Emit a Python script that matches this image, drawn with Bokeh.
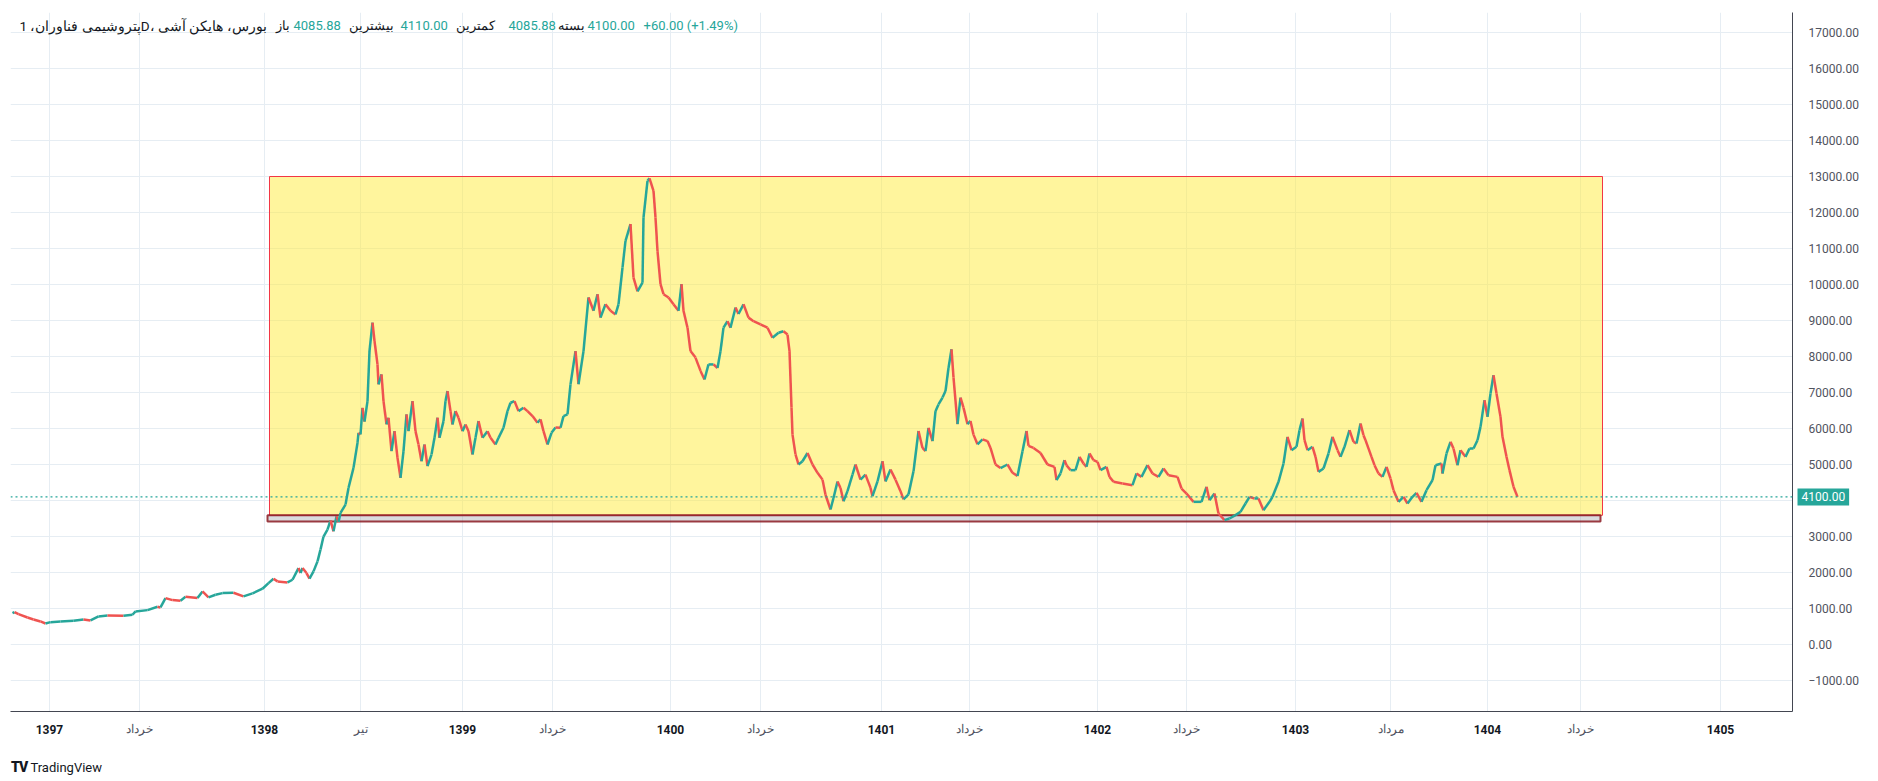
from bokeh.plotting import figure
from bokeh.models import Range1d, FixedTicker, Label, LinearAxis, Span, Div
from bokeh.layouts import column
from bokeh.embed import file_html
from bokeh.resources import INLINE

# ---------------- data ----------------
# bar index (trading-day position on the time scale) and Heikin Ashi close
bar_x = [12, 14, 18, 27, 33, 40, 45, 50, 60, 73, 83, 90, 98, 107, 123, 132, 135, 147, 157, 160,
         165, 172, 180, 185, 197, 202, 208, 215, 222, 233, 243, 252, 262, 268, 273, 277, 287, 292,
         298, 300, 302, 306, 309, 313, 317, 320, 323, 327, 330, 333, 336, 338, 340, 345, 348, 353,
         357, 358, 360, 362, 364, 367, 369, 372, 374, 377, 378, 381, 383, 386, 388, 391, 394, 397,
         400, 403, 406, 408, 412, 415, 418, 421, 424, 427, 431, 434, 437, 439, 443, 445, 447, 450,
         452, 455, 458, 462, 465, 468, 472, 475, 478, 482, 487, 490, 495, 498, 503, 507, 510, 514,
         518, 523, 527, 532, 537, 540, 543, 547, 551, 555, 560, 563, 567, 570, 575, 578, 583, 588,
         593, 597, 600, 605, 610, 615, 618, 622, 625, 630, 633, 637, 642, 643, 647, 649, 653, 655,
         657, 660, 663, 668, 673, 678, 681, 683, 687, 690, 695, 700, 704, 708, 713, 717, 720, 723,
         727, 730, 735, 738, 743, 748, 753, 760, 767, 772, 778, 783, 787, 789, 791, 792, 795, 798,
         802, 807, 812, 817, 822, 825, 830, 833, 837, 840, 843, 847, 852, 855, 860, 865, 870, 872,
         877, 882, 885, 890, 895, 900, 903, 908, 913, 918, 922, 925, 928, 932, 935, 938, 942, 945,
         948, 951, 953, 957, 960, 963, 967, 970, 973, 977, 982, 987, 990, 995, 1000, 1007, 1012,
         1017, 1022, 1026, 1028, 1033, 1040, 1047, 1054, 1056, 1060, 1064, 1066, 1070, 1075, 1079,
         1083, 1086, 1089, 1093, 1097, 1100, 1106, 1109, 1113, 1122, 1132, 1136, 1141, 1147, 1152,
         1158, 1163, 1168, 1177, 1181, 1186, 1193, 1201, 1206, 1209, 1214, 1218, 1224, 1229, 1235,
         1240, 1245, 1249, 1254, 1258, 1263, 1269, 1272, 1278, 1283, 1287, 1291, 1296, 1299, 1302,
         1304, 1307, 1312, 1315, 1318, 1323, 1328, 1332, 1337, 1340, 1344, 1349, 1353, 1356, 1360,
         1363, 1365, 1371, 1374, 1378, 1382, 1386, 1390, 1393, 1398, 1403, 1407, 1412, 1416, 1421,
         1426, 1432, 1435, 1441, 1442, 1446, 1450, 1453, 1457, 1460, 1465, 1469, 1473, 1477, 1480,
         1484, 1487, 1490, 1493, 1496, 1500, 1502, 1506, 1509, 1513, 1517]
close = [871, 899, 843, 751, 696, 640, 584, 621, 640, 659, 696, 668, 779, 807, 798, 826, 918, 955,
         1049, 1030, 1289, 1233, 1215, 1326, 1289, 1475, 1308, 1382, 1428, 1438, 1336, 1419, 1549,
         1706, 1828, 1753, 1725, 1799, 2123, 1984, 2123, 1984, 1828, 2031, 2309, 2635, 3000, 3191,
         3450, 3144, 3561, 3400, 3654, 3886, 4350, 4906, 5602, 5880, 5834, 6575, 6190, 6761, 8152,
         8940, 8431, 7782, 7225, 7504, 6761, 6113, 6299, 5370, 5927, 5184, 4628, 5370, 6391, 5927,
         6761, 5927, 5556, 5092, 5556, 4953, 5277, 5741, 6299, 5741, 6206, 6761, 7040, 6483, 6113,
         6483, 6299, 5927, 6113, 5927, 5277, 5741, 6206, 5741, 5927, 5741, 5556, 5741, 6020, 6483,
         6715, 6761, 6483, 6576, 6483, 6345, 6160, 6253, 5927, 5556, 5880, 6030, 6020, 6345, 6391,
         7225, 8150, 7230, 8150, 9640, 9270, 9730, 9080, 9450, 9270, 9170, 9450, 10470, 11210,
         11680, 10190, 9810, 10050, 11860, 12880, 12950, 12600, 11860, 10930, 10010, 9730, 9640,
         9450, 9270, 10010, 9270, 8800, 8150, 7970, 7600, 7360, 7780, 7780, 7680, 8150, 8800, 8980,
         8800, 9360, 9180, 9450, 9080, 8980, 8890, 8800, 8520, 8660, 8700, 8610, 8150, 6580, 5830,
         5280, 5000, 5090, 5320, 5000, 4770, 4580, 4160, 3750, 4070, 4530, 4350, 3980, 4260, 4720,
         5000, 4580, 4720, 4350, 4120, 4530, 5090, 4530, 4860, 4580, 4260, 4030, 4170, 4810, 5930,
         5460, 5370, 6020, 5650, 6480, 6670, 6860, 7040, 7680, 8200, 7420, 6120, 6860, 6580, 6120,
         6210, 5830, 5560, 5700, 5650, 5460, 5000, 4900, 5000, 4770, 4680, 5370, 5930, 5520, 5460,
         5320, 5000, 4935, 4565, 4750, 5120, 4980, 4843, 4843, 5213, 5028, 4935, 5306, 5120, 5074,
         4843, 4935, 4657, 4519, 4472, 4426, 4750, 4657, 4981, 4750, 4657, 4889, 4704, 4657, 4333,
         4194, 3963, 3963, 4380, 4009, 4194, 3639, 3454, 3500, 3593, 3685, 3917, 4102, 4056, 4056,
         3731, 3963, 4102, 4519, 5028, 5769, 5398, 5491, 5954, 6278, 5676, 5398, 5491, 5213, 4796,
         4889, 5306, 5769, 5398, 5213, 5491, 5954, 5630, 5583, 6139, 5815, 5676, 5213, 4981, 4750,
         4657, 4935, 4611, 4287, 3963, 4102, 3917, 4102, 4213, 3963, 4287, 4565, 4981, 5028, 4750,
         5306, 5630, 5444, 4981, 5398, 5213, 5444, 5444, 5676, 6046, 6787, 6324, 6972, 7481, 6972,
         6324, 5769, 5213, 4843, 4380, 4100]

year_ticks = [49, 264, 462, 670, 881, 1097, 1295, 1487, 1720]
year_labels = ["1397", "1398", "1399", "1400", "1401", "1402", "1403", "1404", "1405"]
month_ticks = [139, 360, 552, 760, 969, 1186, 1390, 1580]
month_labels = ["خرداد", "تیر", "خرداد", "خرداد", "خرداد", "خرداد", "مرداد", "خرداد"]
price_ticks = list(range(-1000, 17001, 1000))

# drawn zone (rectangle) and support band
box_left, box_right, box_top, box_bottom = [269], [1602], [13000], [3590]
band_left, band_right, band_top, band_bottom = [267], [1600], [3590], [3420]

symbol_title = "پتروشیمی فناوران، 1D، بورس، هایکن آشی"
ohlc_names = ["باز", "بیشترین", "کمترین", "بسته"]
ohlc_values = [4085.88, 4110.00, 4085.88, 4100.00]
change_abs = 60.00
change_pct = 1.49

# ---------------- styling constants ----------------
UP = "#26a69a"
DOWN = "#ef5350"
GRID = "#e6edf3"
TXT = "#131722"
TXT2 = "#50535e"
FONT = "Roboto"

Y0, Y1 = -1861, 17556
FRAME_TOP, FRAME_BOTTOM = 12, 711   # page pixels


def page_y(py):
    # convert a page-pixel row into a price coordinate for annotations
    return Y1 - (py - FRAME_TOP) * (Y1 - Y0) / (FRAME_BOTTOM - FRAME_TOP)


p = figure(width=1858, height=749, x_range=Range1d(10, 1792), y_range=Range1d(Y0, Y1),
           output_backend="svg", toolbar_location=None, y_axis_location="right",
           min_border_left=2, min_border_top=4, min_border_right=74, min_border_bottom=46,
           background_fill_color="white", border_fill_color="white")
p.outline_line_color = None

# grid
all_x_ticks = sorted(year_ticks + month_ticks)
p.xgrid.ticker = FixedTicker(ticks=all_x_ticks)
p.ygrid.ticker = FixedTicker(ticks=price_ticks)
p.xgrid.grid_line_color = GRID
p.ygrid.grid_line_color = GRID

# x axis (years, bold)
xa = p.xaxis[0]
xa.ticker = FixedTicker(ticks=year_ticks)
xa.major_label_overrides = {t: l for t, l in zip(year_ticks, year_labels)}
xa.major_label_text_font = FONT
xa.major_label_text_font_size = "12px"
xa.major_label_text_font_style = "bold"
xa.major_label_text_color = TXT
xa.major_tick_line_color = None
xa.minor_tick_line_color = None
xa.axis_line_color = "#434651"
xa.major_label_standoff = 7

# second time axis for the month names, pulled up onto the same row
xm = LinearAxis(ticker=FixedTicker(ticks=month_ticks),
                major_label_overrides={t: l for t, l in zip(month_ticks, month_labels)},
                major_label_text_font=FONT, major_label_text_font_size="12px",
                major_label_text_color=TXT2, major_tick_line_color=None,
                minor_tick_line_color=None, axis_line_color=None,
                major_label_standoff=-21)
p.add_layout(xm, "below")

# y axis (price)
last = close[-1]
ya = p.yaxis[0]
ya.ticker = FixedTicker(ticks=price_ticks)
ya.major_label_overrides = {t: ("" if abs(t - last) < 400 else
                                (f"{t:.2f}" if t >= 0 else "\u2212" + f"{-t:.2f}"))
                            for t in price_ticks}
ya.major_label_text_font = FONT
ya.major_label_text_font_size = "12px"
ya.major_label_text_color = TXT2
ya.major_tick_line_color = None
ya.minor_tick_line_color = None
ya.axis_line_color = "#434651"
ya.major_label_standoff = 10

# zone rectangle and band
p.quad(left=box_left, right=box_right, top=box_top, bottom=box_bottom,
       fill_color="#ffeb3b", fill_alpha=0.5, line_color="#f23645", line_width=1)
p.quad(left=band_left, right=band_right, top=band_top, bottom=band_bottom,
       fill_color="#9598a1", fill_alpha=0.35, line_color="#8b1a22", line_width=2, line_alpha=0.85)

# price series as coloured up/down strokes
x0, x1 = bar_x[:-1], bar_x[1:]
c0, c1 = close[:-1], close[1:]
cols = [UP if b >= a else DOWN for a, b in zip(c0, c1)]
p.segment(x0=x0, y0=c0, x1=x1, y1=c1, line_color=cols, line_width=2.5)

# last price line + label on the price scale (side panel -> not clipped to frame)
p.add_layout(Span(location=last, dimension="width", line_color=UP,
                  line_dash="2 3", line_width=1.2))
p.add_layout(Label(x=1792, y=last, text=f"{last:.2f}", text_color="white",
                   text_font=FONT, text_font_size="12px", text_baseline="middle",
                   text_align="left", x_offset=5, background_fill_color=UP,
                   padding=4), "below")

# legend line at top-left
ty = page_y(25)
p.add_layout(Label(x=19, y=ty, text=symbol_title, text_font=FONT, text_font_size="13.5px",
                   text_color=TXT, text_baseline="middle"))
name_x = [275, 348, 455, 557]
val_x = [293, 400, 508, 587]
for nx, vx, nm, v in zip(name_x, val_x, ohlc_names, ohlc_values):
    p.add_layout(Label(x=nx, y=ty, text=nm, text_font=FONT, text_font_size="13px",
                       text_color=TXT, text_baseline="middle"))
    p.add_layout(Label(x=vx, y=ty, text=f"{v:.2f}", text_font=FONT, text_font_size="13px",
                       text_color=UP, text_baseline="middle"))
p.add_layout(Label(x=643, y=ty, text=f"+{change_abs:.2f} (+{change_pct:.2f}%)", text_font=FONT,
                   text_font_size="13px", text_color=UP, text_baseline="middle"))

logo = Div(text='<span style="font-weight:900;letter-spacing:-1px;font-size:14px">TV</span>'
                '&nbsp;TradingView',
           styles={"font-family": "Roboto", "font-size": "13px", "color": "#131722"},
           margin=(0, 0, 0, 3))

layout = column(p, logo, spacing=0, margin=(8, 0, 0, 8))
open("out.html", "w").write(file_html(layout, INLINE))
